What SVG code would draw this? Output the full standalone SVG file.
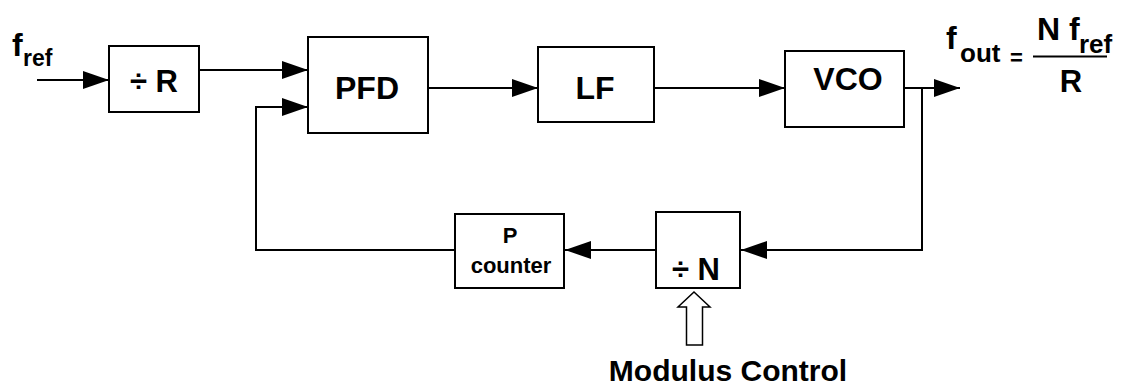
<svg xmlns="http://www.w3.org/2000/svg" width="1122" height="388" viewBox="0 0 1122 388">
<style>
.box{fill:#fff;stroke:#000;stroke-width:2}
.ln{fill:none;stroke:#000;stroke-width:2}
text{font-family:"Liberation Sans",Arial,sans-serif;font-weight:bold;fill:#000}
.big{font-size:32px}
.mid{font-size:22px}
</style>
<defs>
<marker id="ah" viewBox="0 0 26 18" refX="26" refY="9" markerWidth="26" markerHeight="18" markerUnits="userSpaceOnUse" orient="auto">
<path d="M0,0 L26,9 L0,18 Z" fill="#000"/>
</marker>
</defs>
<g id="connectors">
<line class="ln" x1="37" y1="80" x2="109" y2="80" marker-end="url(#ah)"/>
<line class="ln" x1="199" y1="70" x2="308" y2="70" marker-end="url(#ah)"/>
<polyline class="ln" points="455,250 256,250 256,107 308,107" marker-end="url(#ah)"/>
<line class="ln" x1="428" y1="88" x2="538" y2="88" marker-end="url(#ah)"/>
<line class="ln" x1="654" y1="88" x2="785" y2="88" marker-end="url(#ah)"/>
<line class="ln" x1="904" y1="88" x2="960" y2="88" marker-end="url(#ah)"/>
<polyline class="ln" points="922,88 922,250 741,250" marker-end="url(#ah)"/>
<line class="ln" x1="656" y1="250" x2="565" y2="250" marker-end="url(#ah)"/>
<path d="M694,292 L710,307 L702.5,307 L702.5,345 L686.5,345 L686.5,307 L678,307 Z" fill="#fff" stroke="#000" stroke-width="1.5"/>
</g>
<g id="fref-label">
<text x="12" y="56" style="font-size:32px">f</text>
<text x="23" y="66" style="font-size:23px">ref</text>
</g>
<g id="divR">
<rect class="box" x="109" y="46" width="90" height="66"/>
<text class="big" x="154" y="92" text-anchor="middle" style="font-size:31px">÷ R</text>
</g>
<g id="PFD">
<rect class="box" x="308" y="37" width="120" height="96"/>
<text class="big" x="367" y="99" text-anchor="middle">PFD</text>
</g>
<g id="LF">
<rect class="box" x="538" y="47" width="116" height="75"/>
<text class="big" x="595" y="99" text-anchor="middle">LF</text>
</g>
<g id="VCO">
<rect class="box" x="785" y="51" width="119" height="76"/>
<text class="big" x="848" y="90" text-anchor="middle">VCO</text>
</g>
<g id="divN">
<rect class="box" x="656" y="212" width="84" height="76"/>
<text class="big" x="696" y="280" text-anchor="middle" style="font-size:31px">÷ N</text>
</g>
<g id="Pcounter">
<rect class="box" x="455" y="214" width="109" height="74"/>
<text class="mid" x="510" y="243" text-anchor="middle">P</text>
<text class="mid" x="511" y="273" text-anchor="middle">counter</text>
</g>
<g id="fout-label">
<text x="946" y="49" style="font-size:32px">f</text>
<text x="960" y="62" style="font-size:26px">out</text>
<text x="1010" y="65" style="font-size:22px">=</text>
<text x="1037" y="40" style="font-size:32px">N f</text>
<text x="1079" y="53" style="font-size:26px">ref</text>
<line x1="1033" y1="56.5" x2="1107" y2="56.5" stroke="#000" stroke-width="2"/>
<text x="1071" y="92" text-anchor="middle" style="font-size:31px">R</text>
</g>
<g id="modulus-label">
<text x="728" y="381" text-anchor="middle" style="font-size:30px">Modulus Control</text>
</g>
</svg>
